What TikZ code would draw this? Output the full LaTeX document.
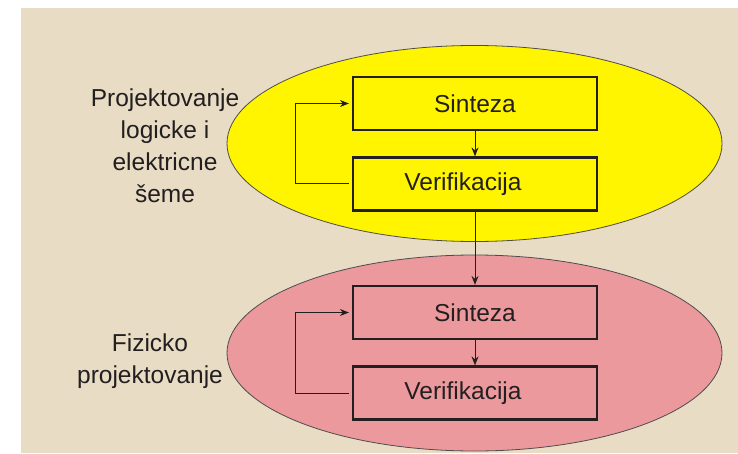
\documentclass[tikz,border=0pt]{standalone}
\usepackage{fontspec}
\setmainfont{Liberation Sans}
\usetikzlibrary{arrows.meta}
\definecolor{beige}{HTML}{E8DCC4}
\definecolor{zuta}{HTML}{FFF500}
\definecolor{roza}{HTML}{EC999D}
\definecolor{tamna}{HTML}{231F20}
\begin{document}
\begin{tikzpicture}[x=1pt, y=1pt,
    blok/.style={draw=tamna, line width=2.2pt, minimum width=244pt, minimum height=53pt,
      inner sep=0pt, font=\fontsize{24.5}{28}\selectfont, text=tamna},
    natpis/.style={align=center, font=\fontsize{24.5}{32}\selectfont, text=tamna},
    veza/.style={draw=tamna, line width=1pt, -{Stealth[length=9pt, width=7pt]}}]
  \useasboundingbox (0,0) rectangle (738,453);
  \fill[beige] (21,0) rectangle (738,445);
  \draw[fill=zuta, draw=tamna!80, line width=0.8pt] (474.5,309.5) ellipse (247.5pt and 98pt);
  \draw[fill=roza, draw=tamna!80, line width=0.8pt] (474.5,100) ellipse (247.5pt and 98pt);
  % logicko projektovanje
  \node[blok] (s1) at (475,349.5) {Sinteza};
  \node[blok] (v1) at (475,269) {Verifikacija\hspace*{24pt}};
  % fizicko projektovanje
  \node[blok] (s2) at (475,140.5) {Sinteza};
  \node[blok] (v2) at (475,60) {Verifikacija\hspace*{24pt}};
  \node[natpis] (l1) at (165,307.5) {Projektovanje\\logicke i\\elektricne\\šeme};
  \node[natpis] (l2) at (150,91.5) {Fizicko\\projektovanje};
  \draw[veza] (s1) -- (v1);
  \draw[veza] (v1) -- (s2);
  \draw[veza] (s2) -- (v2);
  \draw[veza] ([xshift=-3pt]v1.west) -- ++(-53,0) |- ([xshift=-3pt]s1.west);
  \draw[veza] ([xshift=-3pt]v2.west) -- ++(-53,0) |- ([xshift=-3pt]s2.west);
\end{tikzpicture}
\end{document}
